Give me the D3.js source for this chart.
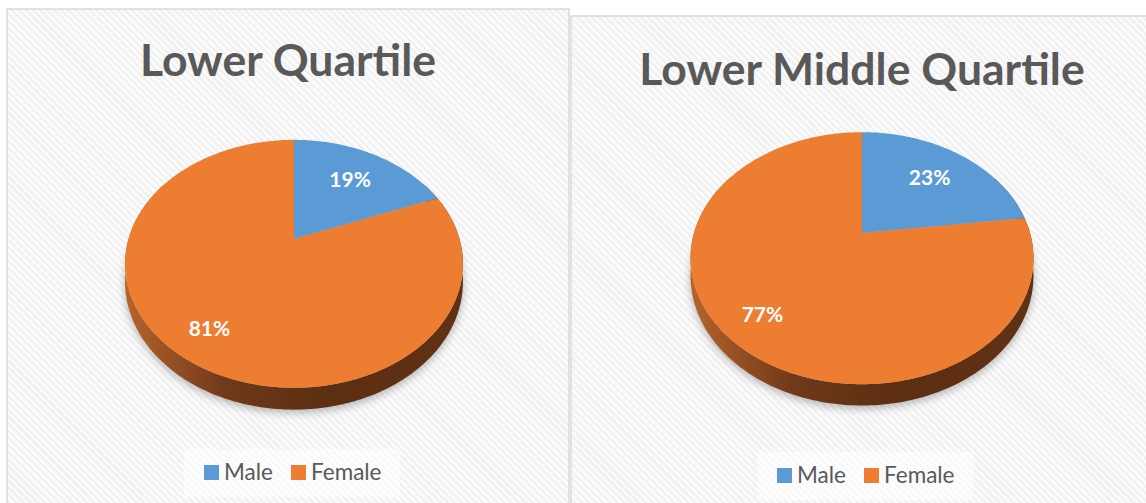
<!DOCTYPE html>
<html>
<head>
<meta charset="utf-8">
<script src="https://cdn.jsdelivr.net/npm/d3@7"></script>
<style>
  html, body { margin: 0; padding: 0; background: #fff; }
  svg { display: block; font-family: Lato, "Open Sans", sans-serif; }
</style>
</head>
<body>
<div id="chart"></div>
<script>
// data
const categories = ["Male", "Female"];
const titles = ["Lower Quartile", "Lower Middle Quartile"];
const lowerQuartile = [19, 81];
const lowerMiddleQuartile = [23, 77];
const colors = ["#5b9bd5", "#ed7d31"];

const width = 1146, height = 503;
const svg = d3.select("#chart").append("svg")
  .attr("width", width).attr("height", height);
const defs = svg.append("defs");

// faint diagonal hatch used by the chart area
const hatch = defs.append("pattern")
  .attr("id", "hatch")
  .attr("patternUnits", "userSpaceOnUse")
  .attr("width", 5).attr("height", 5)
  .attr("patternTransform", "rotate(-45)");
hatch.append("rect").attr("width", 5).attr("height", 5).attr("fill", "#fcfcfc");
hatch.append("rect").attr("width", 2.5).attr("height", 5).attr("fill", "#f0f0f0");

const blur = defs.append("filter").attr("id", "shadow")
  .attr("x", "-20%").attr("y", "-20%").attr("width", "140%").attr("height", "140%");
blur.append("feGaussianBlur").attr("stdDeviation", 4);

const panels = [
  { title: titles[0], values: lowerQuartile, x: 7, y: 9, w: 562, h: 520,
    cx: 294, cy: 239, rx: 165.5, ry: 119, k: 0.2, depth: 17.5,
    titleY: 76, legendY: 480, legendCx: 292 },
  { title: titles[1], values: lowerMiddleQuartile, x: 571, y: 16, w: 582, h: 520,
    cx: 862, cy: 233, rx: 168, ry: 121, k: 0.2, depth: 17,
    titleY: 85, legendY: 483, legendCx: 865 }
];

const pie = d3.pie().sort(null).value(d => d.value);

panels.forEach((p, pi) => {
  const g = svg.append("g");
  g.append("rect")
    .attr("x", p.x).attr("y", p.y).attr("width", p.w).attr("height", p.h)
    .attr("fill", "url(#hatch)")
    .attr("stroke", "#d9d9d9").attr("stroke-width", 1.5);

  g.append("text")
    .attr("x", p.x + p.w / 2)
    .attr("y", p.titleY)
    .attr("text-anchor", "middle")
    .attr("font-size", 44.5).attr("font-weight", 700)
    .attr("fill", "#595959")
    .text(p.title);

  // perspective projection of a point on the unit disk (angle from 12 o'clock, clockwise)
  const proj = (a, r, z) => {
    const u = Math.sin(a) * r, v = Math.cos(a) * r;
    const den = 1 + p.k * v;
    return [p.cx + p.rx * u / den, p.cy - p.ry * v / den + (z || 0) / den];
  };
  const line = d3.line();
  const arcPts = (a0, a1, z) => {
    const n = Math.max(2, Math.ceil(Math.abs(a1 - a0) / 0.02));
    return d3.range(n + 1).map(i => proj(a0 + (a1 - a0) * i / n, 1, z));
  };

  const gradId = "side" + pi;
  const grad = defs.append("linearGradient").attr("id", gradId)
    .attr("gradientUnits", "userSpaceOnUse")
    .attr("x1", p.cx - p.rx * 1.03).attr("x2", p.cx + p.rx * 1.03)
    .attr("y1", 0).attr("y2", 0);
  grad.append("stop").attr("offset", 0).attr("stop-color", "#b7642b");
  grad.append("stop").attr("offset", 0.3).attr("stop-color", "#70391a");
  grad.append("stop").attr("offset", 0.6).attr("stop-color", "#5c2e12");
  grad.append("stop").attr("offset", 1).attr("stop-color", "#613114");

  const arcs = pie(categories.map((c, i) => ({ name: c, value: p.values[i] })));

  // soft shadow under the pie
  const full = arcPts(0, 2 * Math.PI, p.depth);
  g.append("path")
    .attr("d", line(full) + "Z")
    .attr("transform", "translate(0,3)")
    .attr("fill", "#000").attr("opacity", 0.28)
    .attr("filter", "url(#shadow)");

  // side wall of the near half
  const a0 = Math.PI / 3, a1 = Math.PI * 5 / 3;
  const sidePts = arcPts(a0, a1, 0).concat(arcPts(a1, a0, p.depth));
  g.append("path")
    .attr("d", line(sidePts) + "Z")
    .attr("fill", `url(#${gradId})`);

  // top face slices
  g.selectAll("path.slice")
    .data(arcs)
    .join("path")
    .attr("class", "slice")
    .attr("d", d => line([proj(0, 0)].concat(arcPts(d.startAngle, d.endAngle, 0))) + "Z")
    .attr("fill", (d, i) => colors[i]);

  g.selectAll("text.lbl")
    .data(arcs)
    .join("text")
    .attr("class", "lbl")
    .attr("transform", d => {
      const mid = (d.startAngle + d.endAngle) / 2;
      const r = d.data.value < 50 ? 0.67 : 0.79;
      const pt = proj(mid, r, 0);
      return `translate(${pt[0]},${pt[1]})`;
    })
    .attr("text-anchor", "middle").attr("dy", "0.36em")
    .attr("font-size", 21).attr("font-weight", 700)
    .attr("fill", "#fff")
    .text(d => d.data.value + "%");

  // legend
  const lg = g.append("g");
  lg.append("rect")
    .attr("x", p.legendCx - 108).attr("y", p.legendY - 31)
    .attr("width", 216).attr("height", 48)
    .attr("fill", "#fff").attr("opacity", 0.5);
  const items = lg.selectAll("g.item").data(categories).join("g")
    .attr("class", "item")
    .attr("transform", (d, i) => `translate(${p.legendCx - 88 + i * 87},${p.legendY})`);
  items.append("rect")
    .attr("x", 0).attr("y", -15).attr("width", 15).attr("height", 15)
    .attr("fill", (d, i) => colors[i]);
  items.append("text")
    .attr("x", 20).attr("y", 0)
    .attr("font-size", 22.5).attr("fill", "#595959")
    .text(d => d);
});
</script>
</body>
</html>
